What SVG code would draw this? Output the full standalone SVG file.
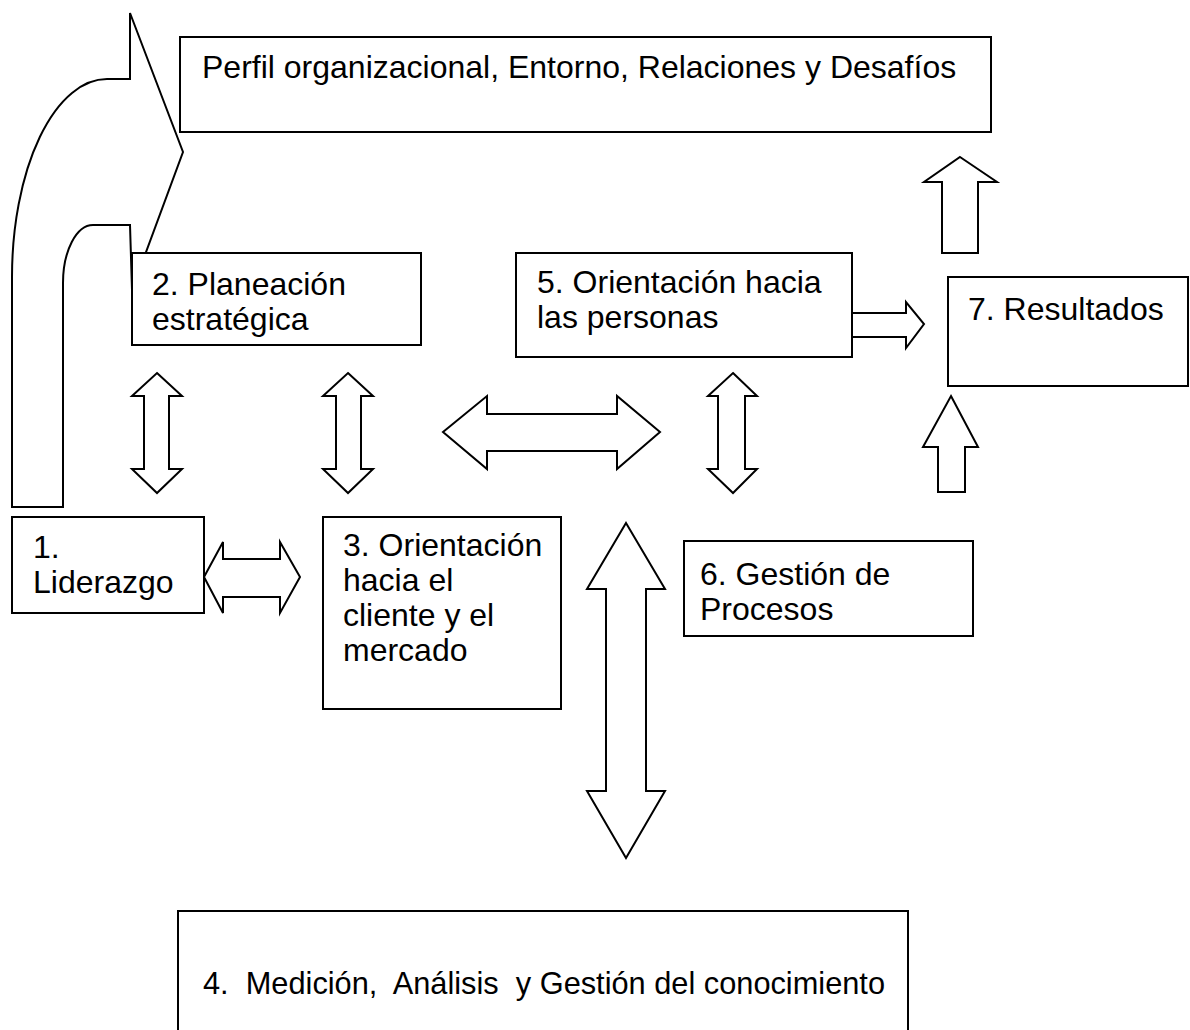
<svg xmlns="http://www.w3.org/2000/svg" width="1190" height="1030" viewBox="0 0 1190 1030">
  <style>
    .box { fill: #ffffff; stroke: #000000; stroke-width: 2; }
    .arrow { fill: #ffffff; stroke: #000000; stroke-width: 2; stroke-linejoin: miter; }
    .label { font-family: "Liberation Sans", Arial, sans-serif; font-size: 32px; fill: #000000; }
  </style>
  <rect width="1190" height="1030" fill="#ffffff"/>

  <!-- bent arrow from Liderazgo up to the organizational profile -->
  <g id="bent-arrow">
    <path class="arrow" d="M 12,507 L 12,277 A 95,198 0 0 1 107,79 L 130,79 L 130,13 L 183,152 L 132,290 L 130,225 L 93,225 A 30,58 0 0 0 63,283 L 63,507 Z"/>
  </g>

  <g id="node-perfil">
    <rect class="box" x="180" y="37" width="811" height="95"/>
    <text class="label" x="202" y="78">Perfil organizacional, Entorno, Relaciones y Desafíos</text>
  </g>

  <g id="node-planeacion">
    <rect class="box" x="132" y="253" width="289" height="92"/>
    <text class="label" x="152" y="295">2. Planeación</text>
    <text class="label" x="152" y="330">estratégica</text>
  </g>

  <g id="node-personas">
    <rect class="box" x="516" y="253" width="336" height="104"/>
    <text class="label" x="537" y="293">5. Orientación hacia</text>
    <text class="label" x="537" y="328">las personas</text>
  </g>

  <g id="node-resultados">
    <rect class="box" x="948" y="277" width="240" height="109"/>
    <text class="label" x="968" y="320">7. Resultados</text>
  </g>

  <g id="node-liderazgo">
    <rect class="box" x="12" y="517" width="192" height="96"/>
    <text class="label" x="33" y="558">1.</text>
    <text class="label" x="33" y="593">Liderazgo</text>
  </g>

  <g id="node-cliente">
    <rect class="box" x="323" y="517" width="238" height="192"/>
    <text class="label" x="343" y="556">3. Orientación</text>
    <text class="label" x="343" y="591">hacia el</text>
    <text class="label" x="343" y="626">cliente y el</text>
    <text class="label" x="343" y="661">mercado</text>
  </g>

  <g id="node-procesos">
    <rect class="box" x="684" y="541" width="289" height="95"/>
    <text class="label" x="700" y="585">6. Gestión de</text>
    <text class="label" x="700" y="620">Procesos</text>
  </g>

  <g id="node-medicion">
    <rect class="box" x="178" y="911" width="730" height="130"/>
    <text class="label" x="203" y="994" xml:space="preserve" textLength="682" lengthAdjust="spacingAndGlyphs">4.  Medición,  Análisis  y Gestión del conocimiento</text>
  </g>

  <!-- block arrows linking the criteria -->
  <g id="connectors">
    <!-- Planeación <-> Liderazgo -->
    <polygon class="arrow" points="157,373 182,396 169,396 169,469 182,469 157,493 132,469 144,469 144,396 132,396"/>
    <!-- Planeación <-> Cliente -->
    <polygon class="arrow" points="348,373 373,396 361,396 361,469 373,469 348,493 323,469 336,469 336,396 323,396"/>
    <!-- Cliente <-> Personas (horizontal) -->
    <polygon class="arrow" points="443,432 487,396 487,414 617,414 617,396 660,432 617,469 617,451 487,451 487,469"/>
    <!-- Personas <-> Procesos -->
    <polygon class="arrow" points="733,373 757,396 745,396 745,469 757,469 733,493 708,469 718,469 718,396 708,396"/>
    <!-- Personas -> Resultados -->
    <polygon class="arrow" points="852,313 906,313 906,302 924,324 906,348 906,337 852,337"/>
    <!-- Resultados -> Perfil -->
    <polygon class="arrow" points="960,157 997,182 978,182 978,253 942,253 942,182 924,182"/>
    <!-- Procesos -> Resultados -->
    <polygon class="arrow" points="951,396 978,447 965,447 965,492 938,492 938,447 923,447"/>
    <!-- Liderazgo <-> Cliente -->
    <polygon class="arrow" points="204,577 223,542 223,559 280,559 280,542 300,577 280,613 280,597 223,597 223,613"/>
    <!-- Medición <-> centre -->
    <polygon class="arrow" points="626,523 665,589 646,589 646,791 665,791 626,858 587,791 606,791 606,589 587,589"/>
  </g>
</svg>
